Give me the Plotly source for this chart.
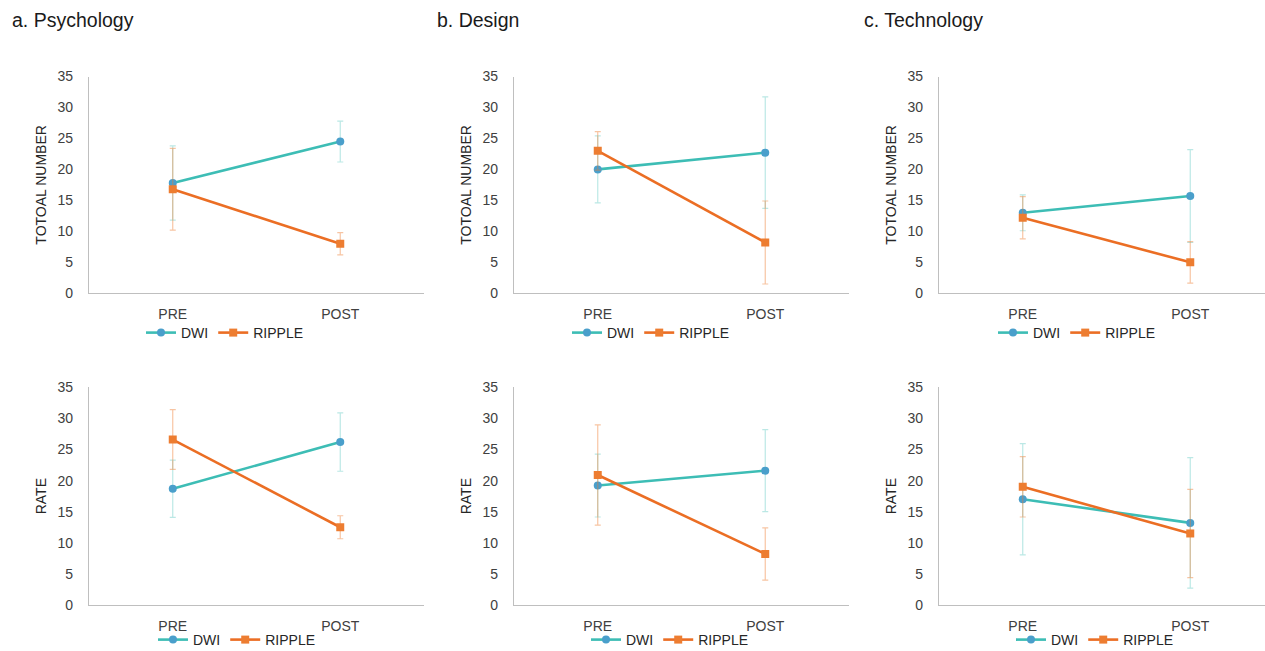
import plotly.graph_objects as go

# ---------------- data ----------------
categories = ["PRE", "POST"]
series_names = ["DWI", "RIPPLE"]
panel_titles = ["a. Psychology", "b. Design", "c. Technology"]
row_titles = ["TOTOAL NUMBER", "RATE"]

# Total number (top row)
psy_total_dwi = [17.8, 24.5]
psy_total_dwi_err = [6.0, 3.3]
psy_total_rip = [16.8, 8.0]
psy_total_rip_err = [6.6, 1.8]

des_total_dwi = [20.0, 22.7]
des_total_dwi_err = [5.4, 9.0]
des_total_rip = [23.0, 8.2]
des_total_rip_err = [3.1, 6.7]

tec_total_dwi = [13.0, 15.7]
tec_total_dwi_err = [2.9, 7.5]
tec_total_rip = [12.2, 5.0]
tec_total_rip_err = [3.4, 3.35]

# Rate (bottom row)
psy_rate_dwi = [18.7, 26.2]
psy_rate_dwi_err = [4.6, 4.7]
psy_rate_rip = [26.6, 12.5]
psy_rate_rip_err = [4.8, 1.85]

des_rate_dwi = [19.2, 21.6]
des_rate_dwi_err = [5.05, 6.6]
des_rate_rip = [20.9, 8.2]
des_rate_rip_err = [8.05, 4.2]

tec_rate_dwi = [17.0, 13.2]
tec_rate_dwi_err = [8.95, 10.5]
tec_rate_rip = [19.0, 11.5]
tec_rate_rip_err = [4.85, 7.1]

y_ticks = [0, 5, 10, 15, 20, 25, 30, 35]

panels = [
    # (row, col, dwi, dwi_err, rip, rip_err)
    (0, 0, psy_total_dwi, psy_total_dwi_err, psy_total_rip, psy_total_rip_err),
    (0, 1, des_total_dwi, des_total_dwi_err, des_total_rip, des_total_rip_err),
    (0, 2, tec_total_dwi, tec_total_dwi_err, tec_total_rip, tec_total_rip_err),
    (1, 0, psy_rate_dwi, psy_rate_dwi_err, psy_rate_rip, psy_rate_rip_err),
    (1, 1, des_rate_dwi, des_rate_dwi_err, des_rate_rip, des_rate_rip_err),
    (1, 2, tec_rate_dwi, tec_rate_dwi_err, tec_rate_rip, tec_rate_rip_err),
]

# ---------------- styling / layout ----------------
W, H = 1265, 651
FONT = "Liberation Sans, Arial, sans-serif"
DWI_LINE = "#3DBDB5"
DWI_MARK = "#4A9FCB"
DWI_ERR = "rgba(61,189,181,0.35)"
RIP_LINE = "#EB6E24"
RIP_MARK = "#ED7D31"
RIP_ERR = "rgba(237,125,49,0.45)"
AXIS_COL = "#BFBFBF"

col_left_px = [89, 514, 939]
plot_w_px = 335
row_y_px = [(76.5, 293.3), (387.3, 605)]
legend_cx_px = [[225, 651, 1077], [237, 670, 1095]]
legend_y_px = [333, 640]

fig = go.Figure()
layout = dict(
    width=W, height=H, autosize=False,
    margin=dict(l=0, r=0, t=0, b=0, pad=0, autoexpand=False),
    paper_bgcolor="white", plot_bgcolor="white",
    font=dict(family=FONT, size=14, color="#404040"),
    showlegend=True,
)

annotations = []
for i, (r, c, dwi, dwi_e, rip, rip_e) in enumerate(panels):
    idx = i + 1
    xa = "x" if idx == 1 else f"x{idx}"
    ya = "y" if idx == 1 else f"y{idx}"
    lg = "legend" if idx == 1 else f"legend{idx}"
    x0 = col_left_px[c] / W
    x1_px = min(col_left_px[c] + plot_w_px, W)
    x1 = x1_px / W
    xr_end = -0.5 + (x1_px - col_left_px[c]) / (plot_w_px / 2)
    ytop, ybot = row_y_px[r]
    fig.add_trace(go.Scatter(
        x=categories, y=dwi, name=series_names[0], xaxis=xa, yaxis=ya, legend=lg,
        mode="lines+markers",
        line=dict(color=DWI_LINE, width=2.6),
        marker=dict(color=DWI_MARK, size=8, symbol="circle"),
        error_y=dict(type="data", array=dwi_e, visible=True, color=DWI_ERR,
                     thickness=1.2, width=3),
    ))
    fig.add_trace(go.Scatter(
        x=categories, y=rip, name=series_names[1], xaxis=xa, yaxis=ya, legend=lg,
        mode="lines+markers",
        line=dict(color=RIP_LINE, width=2.6),
        marker=dict(color=RIP_MARK, size=8, symbol="square"),
        error_y=dict(type="data", array=rip_e, visible=True, color=RIP_ERR,
                     thickness=1.2, width=3),
    ))
    xkey = "xaxis" if idx == 1 else f"xaxis{idx}"
    ykey = "yaxis" if idx == 1 else f"yaxis{idx}"
    layout[xkey] = dict(
        domain=[x0, x1], anchor=ya, type="category", automargin=False,
        range=[-0.5, xr_end], showline=True, linecolor=AXIS_COL, linewidth=1.3,
        showgrid=False, zeroline=False, ticks="", ticklabelstandoff=8,
        tickfont=dict(family=FONT, size=14, color="#404040"), fixedrange=True,
    )
    layout[ykey] = dict(
        domain=[1 - ybot / H, 1 - ytop / H], anchor=xa, automargin=False,
        range=[0, 35], tickvals=y_ticks, showline=True, linecolor=AXIS_COL,
        linewidth=1.3, showgrid=False, zeroline=False, ticks="",
        ticklabelstandoff=12,
        tickfont=dict(family=FONT, size=14, color="#404040"),
        title=dict(text=row_titles[r], standoff=7,
                   font=dict(family=FONT, size=14, color="#262626")),
        fixedrange=True,
    )
    layout[lg] = dict(
        orientation="h", x=legend_cx_px[r][c] / W, xanchor="center",
        y=1 - legend_y_px[r] / H, yanchor="middle",
        font=dict(family=FONT, size=14, color="#262626"),
        bgcolor="rgba(0,0,0,0)", itemwidth=30, tracegroupgap=0,
    )

title_x_px = [10, 435, 862]
for c, t in enumerate(panel_titles):
    annotations.append(dict(
        text=t, x=title_x_px[c] / W, y=1 - 20 / H, xref="paper", yref="paper",
        xanchor="left", yanchor="middle", showarrow=False,
        font=dict(family=FONT, size=19.5, color="#1a1a1a"),
    ))
layout["annotations"] = annotations
fig.update_layout(**layout)

fig.write_html(
    "out.html",
    config={"displayModeBar": False},
    post_script="document.body.style.margin='0';document.body.style.overflow='hidden';",
)
